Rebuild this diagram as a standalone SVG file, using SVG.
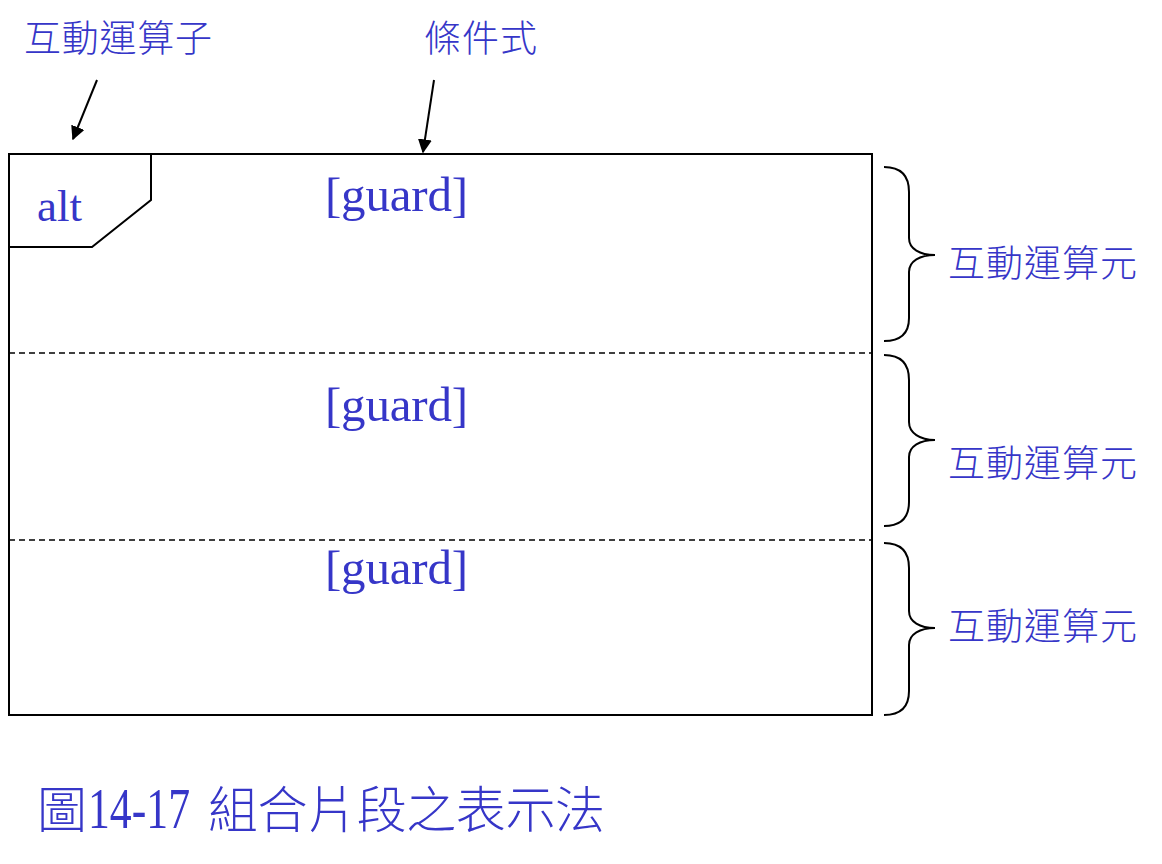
<svg xmlns="http://www.w3.org/2000/svg" width="1162" height="864" viewBox="0 0 1162 864">
<defs>
<style>
.cjk{font-family:"Noto Sans CJK TC","Noto Sans CJK SC",sans-serif;font-weight:300;fill:#3636c8;font-size:37px}
.cap{font-family:"Noto Sans CJK TC","Noto Sans CJK SC",sans-serif;font-weight:300;fill:#3636c8;font-size:50px}
.lat{font-family:"Liberation Serif","Noto Sans CJK TC",serif;fill:#3636c8}
.ln{stroke:#000;stroke-width:2;fill:none}
.dash{stroke:#000;stroke-width:1.5;stroke-dasharray:6 4;fill:none}
</style>
<marker id="ah" viewBox="0 0 10 10" refX="9" refY="5" markerWidth="7" markerHeight="7" orient="auto-start-reverse">
<path d="M0,0 L10,5 L0,10 z" fill="#000"/>
</marker>
</defs>
<rect width="1162" height="864" fill="#fff"/>
<g id="fragment">
<rect x="9" y="154" width="863" height="561" class="ln"/>
<path d="M9,247 L92,247 L151,200 L151,154" class="ln"/>
<text x="37" y="221" class="lat" font-size="45">alt</text>
</g>
<g id="operand1">
<text x="325" y="211" class="lat" font-size="49" textLength="143">[guard]</text>
</g>
<g id="operand2">
<line x1="9" y1="353" x2="872" y2="353" class="dash"/>
<text x="325" y="421" class="lat" font-size="49" textLength="143">[guard]</text>
</g>
<g id="operand3">
<line x1="9" y1="540" x2="872" y2="540" class="dash"/>
<text x="325" y="584" class="lat" font-size="49" textLength="143">[guard]</text>
</g>
<g id="label-operator">
<text x="24" y="52" class="cjk" textLength="188">互動運算子</text>
</g>
<g id="label-guard">
<text x="424" y="52" class="cjk" textLength="113">條件式</text>
</g>
<g id="connectors">
<line x1="97" y1="80" x2="73" y2="139" class="ln" marker-end="url(#ah)"/>
<line x1="434" y1="80" x2="423" y2="152" class="ln" marker-end="url(#ah)"/>
</g>
<g id="brace1">
<path d="M884,167 C900,167 909,175 909,192 L909,238 C909,249 920,255 935,255 C920,255 909,261 909,272 L909,318 C909,334 900,341 884,341" class="ln"/>
<text x="948" y="277" class="cjk" textLength="189">互動運算元</text>
</g>
<g id="brace2">
<path d="M884,355 C900,355 909,363 909,380 L909,422 C909,433 920,440 935,440 C920,440 909,446 909,457 L909,502 C909,518 900,526 884,526" class="ln"/>
<text x="948" y="477" class="cjk" textLength="189">互動運算元</text>
</g>
<g id="brace3">
<path d="M884,543 C900,543 909,551 909,568 L909,611 C909,622 920,628 935,628 C920,628 909,634 909,645 L909,691 C909,707 900,715 884,715" class="ln"/>
<text x="948" y="640" class="cjk" textLength="189">互動運算元</text>
</g>
<g id="caption">
<text y="828" class="cap"><tspan x="37">圖</tspan><tspan x="88" style="font-family:'Liberation Serif',serif;font-weight:normal;font-size:56px" textLength="102" lengthAdjust="spacingAndGlyphs">14-17</tspan><tspan x="208" textLength="397">組合片段之表示法</tspan></text>
</g>
</svg>
